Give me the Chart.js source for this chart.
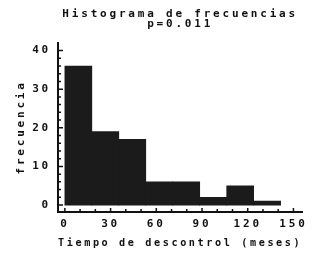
<!DOCTYPE html>
<html>
<head>
<meta charset="utf-8">
<script src="https://cdn.jsdelivr.net/npm/chart.js@4.4.1/dist/chart.umd.min.js"></script>
<style>
  html, body { margin: 0; padding: 0; background: #fff; }
</style>
</head>
<body>
<canvas id="histChart" width="314" height="258"></canvas>
<script>
// histogram bins (centres, in months) and their counts
const binCenters = [8.85, 26.55, 44.25, 61.95, 79.65, 97.35, 115.05, 132.75];
const frequencies = [36, 19, 17, 6, 6, 2, 5, 1];
const xTickValues = [0, 30, 60, 90, 120, 150];
const yTickValues = [0, 10, 20, 30, 40];
const titleLines = ['Histograma de frecuencias', 'p=0.011'];

const ink = '#111';
const font = { family: "'DejaVu Sans Mono', monospace", size: 11, weight: 'bold' };

// wide-spaced text like the old plot
const spacing = {
    id: 'spacing',
    beforeLayout(chart) { chart.ctx.letterSpacing = '2.8px'; },
    beforeDraw(chart) { chart.ctx.letterSpacing = '2.8px'; }
};

// small inward tick marks on both axes
const inTicks = {
    id: 'inTicks',
    afterDraw(chart) {
        const { ctx, scales: { x, y } } = chart;
        ctx.save();
        ctx.strokeStyle = ink;
        ctx.lineWidth = 1.5;
        ctx.beginPath();
        const yBase = y.bottom;
        for (let v = 0; v <= 150; v += 10) {
            const px = x.getPixelForValue(v);
            const len = v % 30 === 0 ? 4 : 3;
            ctx.moveTo(px, yBase);
            ctx.lineTo(px, yBase - len);
        }
        const xBase = x.left;
        for (let v = 0; v <= 40; v += 2) {
            const py = y.getPixelForValue(v);
            const len = v % 10 === 0 ? 5 : 3;
            ctx.moveTo(xBase, py);
            ctx.lineTo(xBase + len, py);
        }
        ctx.stroke();
        ctx.restore();
    }
};

new Chart(document.getElementById('histChart'), {
    type: 'bar',
    data: {
        datasets: [{
            data: binCenters.map((c, i) => ({ x: c, y: frequencies[i] })),
            backgroundColor: '#1b1b1b',
            borderWidth: 0,
            barPercentage: 1,
            categoryPercentage: 1
        }]
    },
    options: {
        responsive: false,
        animation: false,
        layout: { padding: { left: 0, right: 9, top: 0, bottom: 0 } },
        plugins: {
            legend: { display: false },
            tooltip: { enabled: false },
            title: {
                display: true,
                text: titleLines,
                fullSize: false,
                color: ink,
                font: { ...font, lineHeight: 0.9 },
                padding: { top: 9, bottom: 14 }
            }
        },
        scales: {
            x: {
                type: 'linear',
                min: -4.5,
                max: 155.8,
                offset: false,
                grid: { display: false, drawTicks: false },
                border: { display: true, color: ink, width: 2 },
                afterBuildTicks: s => { s.ticks = xTickValues.map(v => ({ value: v })); },
                afterFit: s => { s.height = 46; },
                ticks: { color: ink, font: font, padding: 6, maxRotation: 0, autoSkip: false, callback: v => String(v) },
                title: { display: true, text: 'Tiempo de descontrol (meses)', color: ink, font: font, padding: { top: 0, bottom: 8 } }
            },
            y: {
                min: -1.8,
                max: 42,
                grid: { display: false, drawTicks: false },
                border: { display: true, color: ink, width: 2 },
                afterBuildTicks: s => { s.ticks = yTickValues.map(v => ({ value: v })); },
                afterFit: s => { s.width = 58; },
                ticks: { color: ink, font: font, padding: 7, autoSkip: false, callback: v => String(v) },
                title: { display: true, text: 'frecuencia', color: ink, font: font, padding: { top: 15, bottom: 0 } }
            }
        }
    },
    plugins: [spacing, inTicks]
});
</script>
</body>
</html>
